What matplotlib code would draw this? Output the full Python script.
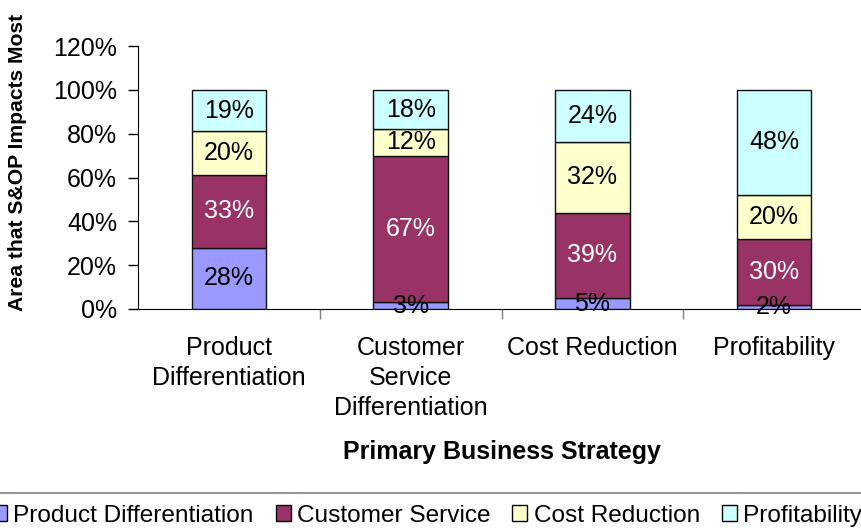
import matplotlib
matplotlib.use("Agg")
import matplotlib.pyplot as plt
from matplotlib.patches import Patch
from matplotlib.lines import Line2D
import numpy as np

plt.rcParams['font.family'] = ['Liberation Sans', 'DejaVu Sans']

categories = ["Product\nDifferentiation", "Customer\nService\nDifferentiation",
              "Cost Reduction", "Profitability"]
series_names = ["Product Differentiation", "Customer Service", "Cost Reduction", "Profitability"]
product_diff = [28, 3, 5, 2]
customer_service = [33, 67, 39, 30]
cost_reduction = [20, 12, 32, 20]
profitability = [19, 18, 24, 48]
series_values = [product_diff, customer_service, cost_reduction, profitability]
colors = ["#9999FF", "#993366", "#FFFFCC", "#CCFFFF"]
label_colors = ["black", "white", "black", "black"]
y_ticks = [0, 0.2, 0.4, 0.6, 0.8, 1.0, 1.2]
y_tick_labels = ["0%", "20%", "40%", "60%", "80%", "100%", "120%"]

FS = 18
LFS = 17.6

fig = plt.figure(figsize=(8.61, 5.31), dpi=100)
ax = fig.add_axes([138/861, 1-309/531, (865-138)/861, (309-46)/531])

x = np.arange(len(categories))
bottom = np.zeros(len(categories))
for vals, col, lc in zip(series_values, colors, label_colors):
    v = np.array(vals) / 100.0
    ax.bar(x, v, bottom=bottom, width=0.41, color=col, edgecolor="#111111", linewidth=1.0, zorder=3)
    for xi, b, h, raw in zip(x, bottom, v, vals):
        ax.text(xi, b + h / 2, f"{raw}%", ha="center", va="center", fontsize=FS, color=lc, zorder=4)
    bottom += v

ax.set_xlim(-0.5, 3.5)
ax.set_ylim(0, 1.2)
ax.set_yticks(y_ticks)
ax.set_yticklabels(y_tick_labels, fontsize=FS)
ax.tick_params(axis="y", direction="out", length=7, width=1, pad=8)

ax.set_xticks([0.5, 1.5, 2.5])
ax.set_xticklabels([])
ax.set_xticks(x, minor=True)
ax.set_xticklabels(categories, minor=True, fontsize=FS, linespacing=1.32, va="top")
ax.tick_params(axis="x", which="major", direction="out", length=7, width=1, color="#808080")
ax.tick_params(axis="x", which="minor", length=0, pad=19.5)

for s in ["top", "right"]:
    ax.spines[s].set_visible(False)
ax.spines["left"].set_color("black")
ax.spines["bottom"].set_color("black")

fig.text(18/861, 1 - 162/531, "Area that S&OP Impacts Most", fontsize=15.2, fontweight="bold",
         rotation=90, ha="center", va="center")
fig.text(502/861, 1 - 452/531, "Primary Business Strategy", fontsize=FS, fontweight="bold",
         ha="center", va="center")

fig.add_artist(Line2D([0, 1], [1 - 493/531, 1 - 493/531], color="#808080", linewidth=1.2,
                      transform=fig.transFigure))
handles = [Patch(facecolor=c, edgecolor="black", linewidth=1.0) for c in colors]
fig.legend(handles, series_names, loc="center", bbox_to_anchor=(427/861, 1 - 516/531),
           ncol=4, frameon=False, fontsize=LFS, handlelength=0.62, handleheight=0.62,
           handletextpad=0.25, columnspacing=0.9, borderaxespad=0)

fig.savefig("out.png", dpi=100)
